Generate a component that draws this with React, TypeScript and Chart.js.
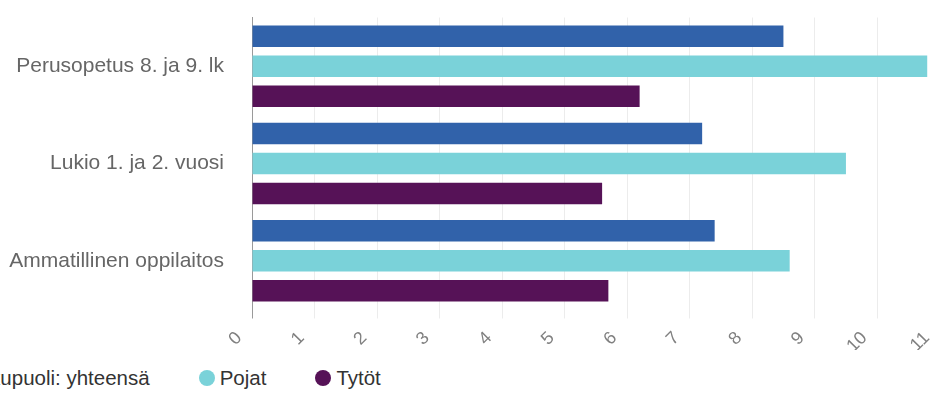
import React, { useEffect, useRef } from "react";
import { Chart, registerables } from "chart.js";

Chart.register(...registerables);

const categories = ["Perusopetus 8. ja 9. lk", "Lukio 1. ja 2. vuosi", "Ammatillinen oppilaitos"];
const seriesNames = ["Sukupuoli: yhteensä", "Pojat", "Tytöt"];
const totalValues = [8.5, 7.2, 7.4];
const boysValues = [10.8, 9.5, 8.6];
const girlsValues = [6.2, 5.6, 5.7];
const seriesColors = ["#3162aa", "#7ad2d9", "#561257"];
const xTicks = [0, 1, 2, 3, 4, 5, 6, 7, 8, 9, 10, 11];

const FONT = "'Liberation Sans', Arial, Helvetica, sans-serif";

export default function App() {
  const ref = useRef<HTMLCanvasElement | null>(null);

  useEffect(() => {
    if (!ref.current) return;
    const values = [totalValues, boysValues, girlsValues];
    const chart = new Chart(ref.current, {
      type: "bar",
      data: {
        labels: categories,
        datasets: seriesNames.map((name, i) => ({
          label: name,
          data: values[i],
          backgroundColor: seriesColors[i],
          borderWidth: 0,
          categoryPercentage: 0.925,
          barPercentage: 0.717,
        })),
      },
      options: {
        indexAxis: "y",
        responsive: false,
        animation: false,
        layout: { padding: { top: 17.5, right: 24, bottom: 0, left: 0 } },
        plugins: {
          legend: { display: false },
          tooltip: { enabled: false },
        },
        scales: {
          x: {
            type: "linear",
            min: xTicks[0],
            max: xTicks[xTicks.length - 1],
            afterFit: (scale: any) => {
              scale.height = 40.5;
            },
            afterBuildTicks: (scale: any) => {
              scale.ticks = xTicks.map((v) => ({ value: v }));
            },
            grid: {
              color: (ctx: any) => (ctx.tick && ctx.tick.value === 0 ? "#9a9a9a" : "#ececec"),
              tickColor: (ctx: any) => (ctx.tick && ctx.tick.value === 0 ? "#9a9a9a" : "#ececec"),
              drawTicks: true,
              tickLength: 9,
            },
            border: { display: false },
            ticks: {
              minRotation: 45,
              maxRotation: 45,
              padding: 9,
              labelOffset: -13,
              color: "#808080",
              font: { family: FONT, size: 18 },
              autoSkip: false,
            },
          },
          y: {
            afterFit: (scale: any) => {
              scale.width = 252;
              scale.paddingTop = 0;
              scale.paddingBottom = 0;
            },
            grid: { display: false, drawTicks: true, tickLength: 24 },
            border: { display: true, color: "#9a9a9a", width: 1 },
            ticks: {
              padding: 4,
              color: "#666666",
              font: { family: FONT, size: 21 },
            },
          },
        },
      },
    });
    return () => chart.destroy();
  }, []);

  const legendItems = seriesNames.map((name, i) => (
    <div key={name} style={{ display: "flex", alignItems: "center", marginRight: 49 }}>
      <span
        style={{
          display: "inline-block",
          width: 16,
          height: 16,
          borderRadius: "50%",
          background: seriesColors[i],
          marginRight: 5,
        }}
      />
      <span style={{ whiteSpace: "nowrap" }}>{name}</span>
    </div>
  ));

  return (
    <div
      style={{
        position: "fixed",
        left: 0,
        top: 0,
        width: 936,
        height: 394,
        overflow: "hidden",
        background: "#ffffff",
      }}
    >
      <canvas ref={ref} width={964} height={350} style={{ position: "absolute", left: 0, top: 0, display: "block" }} />
      <div
        style={{
          position: "absolute",
          left: -56,
          top: 366,
          height: 24,
          display: "flex",
          alignItems: "center",
          fontFamily: FONT,
          fontSize: 20.5,
          color: "#333333",
          whiteSpace: "nowrap",
        }}
      >
        {legendItems}
      </div>
    </div>
  );
}
